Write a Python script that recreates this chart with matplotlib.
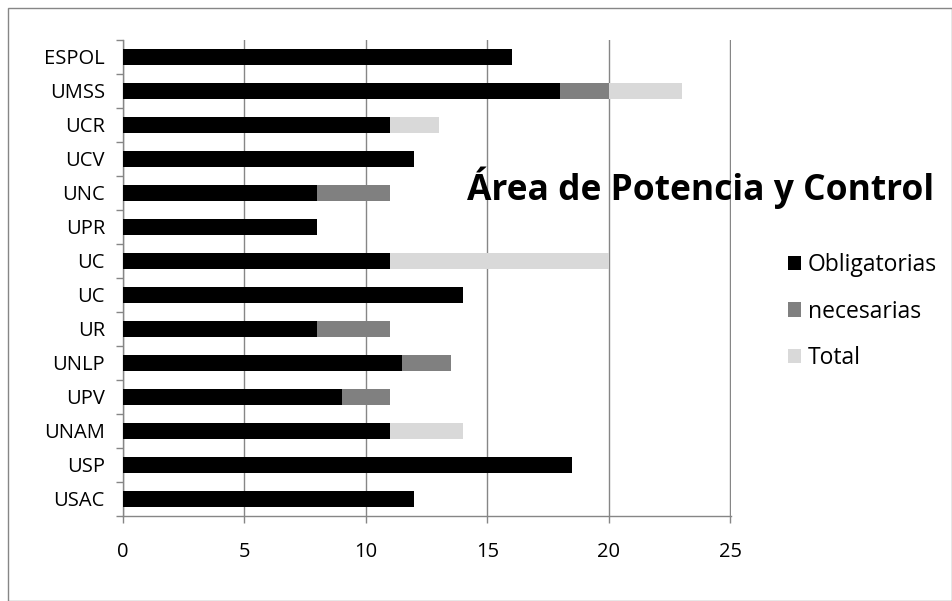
import matplotlib
matplotlib.use("Agg")
import matplotlib.pyplot as plt
import numpy as np
from matplotlib.patches import Rectangle

categories = ["ESPOL", "UMSS", "UCR", "UCV", "UNC", "UPR", "UC", "UC", "UR",
              "UNLP", "UPV", "UNAM", "USP", "USAC"]
obligatorias = [16, 18, 11, 12, 8, 8, 11, 14, 8, 11.5, 9, 11, 18.5, 12]
necesarias = [0, 2, 0, 0, 3, 0, 0, 0, 3, 2, 2, 0, 0, 0]
total = [0, 3, 2, 0, 0, 0, 9, 0, 0, 0, 0, 3, 0, 0]
series_names = ["Obligatorias", "necesarias", "Total"]
colors = ["#000000", "#808080", "#d9d9d9"]
xticks = [0, 5, 10, 15, 20, 25]

plt.rcParams['font.family'] = ['Open Sans', 'DejaVu Sans']

W, H = 953, 601
fig = plt.figure(figsize=(W / 100, H / 100), dpi=100)
ax = fig.add_axes([123 / W, 1 - 516 / H, (731 - 123) / W, (516 - 40) / H])

n = len(categories)
y = np.arange(n)[::-1]
left = np.zeros(n)
handles = []
for vals, name, c in zip([obligatorias, necesarias, total], series_names, colors):
    v = np.array(vals, dtype=float)
    h = ax.barh(y, v, left=left, height=0.47, color=c, edgecolor="none", label=name, zorder=3)
    handles.append(h)
    left = left + v

ax.set_xlim(0, 25.03)
ax.set_ylim(-0.5, n - 0.5)
ax.set_xticks(xticks)
ax.set_xticklabels([str(t) for t in xticks], fontsize=14.5)
ax.set_yticks(y)
ax.set_yticklabels(categories, fontsize=14.5)
ax.set_yticks(np.arange(-0.5, n, 1), minor=True)
ax.tick_params(axis='y', which='major', length=0, pad=13)
ax.tick_params(axis='y', which='minor', length=5, color="#868686", width=1)
ax.tick_params(axis='x', which='major', length=5, color="#868686", width=1, pad=14)
ax.grid(axis='x', color="#868686", linewidth=1, zorder=0)
for s in ["top", "right"]:
    ax.spines[s].set_visible(False)
for s in ["left", "bottom"]:
    ax.spines[s].set_color("#868686")
    ax.spines[s].set_linewidth(1)

fig.text(701 / W, 1 - 188 / H, "Área de Potencia y Control", fontsize=25.5,
         fontweight="bold", ha="center", va="center")

leg = fig.legend(handles=handles, labels=series_names, loc="upper left",
                 bbox_to_anchor=(779 / W, 1 - 244 / H), frameon=False,
                 fontsize=16.5, handlelength=0.55, handleheight=0.6,
                 handletextpad=0.3, labelspacing=0.98, borderaxespad=0)

fig.patches.append(Rectangle((8 / W, 0), (W - 9) / W, 1 - 8 / H, transform=fig.transFigure,
                             fill=False, edgecolor="#868686", linewidth=1))

fig.savefig("out.png", dpi=100)
